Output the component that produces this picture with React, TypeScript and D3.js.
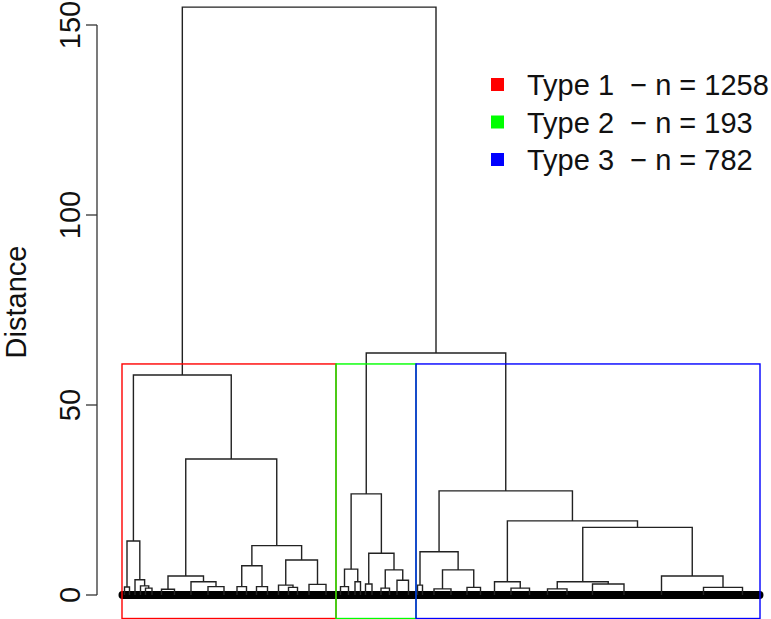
import * as d3 from 'd3';
import * as React from 'react';

const width = 771;
const height = 619;

// observations in each terminal group, in dendrogram leaf order
const groupSizes = [
  5, 5, 6, 5, 5, 8, 11, 15, 18, 16, 16, 10, 9, 11, 11, 11, 9, 9, 14, 20,
  9, 7, 6, 5, 5, 8, 10, 7, 8, 15,
  3, 7, 16, 18, 14, 13, 15, 18, 19, 17, 22, 29, 34, 41, 43, 35,
];

// hclust style merge table: negative = terminal group, positive = earlier merge (1-based)
const merges: [number, number][] = [
  [-1, -2], [-5, -6], [-4, 2], [-3, 3], [1, 4],
  [-7, -8], [-10, -11], [-9, 7], [6, 8],
  [-12, -13], [-14, -15], [10, 11],
  [-17, -18], [-16, 13], [-19, -20], [14, 15], [12, 16],
  [9, 17], [5, 18],
  [-21, -22], [-23, -24], [20, 21],
  [-25, -26], [-27, -28], [-29, -30], [24, 25], [23, 26], [22, 27],
  [-31, -32], [-33, -34], [-35, -36], [30, 31], [29, 32],
  [-38, -39], [-37, 34],
  [-40, -41], [-42, -43], [36, 37],
  [-45, -46], [-44, 39], [38, 40], [35, 41], [33, 42],
  [28, 43], [19, 44],
];

const mergeHeights = [
  2.1, 1.8, 2.4, 4.0, 14.2,
  1.5, 2.2, 3.5, 5.0,
  2.2, 2.2, 7.7,
  2.0, 2.6, 2.8, 9.2, 13.0,
  35.8, 57.9,
  2.2, 3.5, 6.8,
  2.9, 1.8, 3.9, 6.6, 11.0, 26.6,
  2.6, 1.6, 2.0, 6.6, 11.4,
  1.8, 3.5,
  1.6, 2.9, 3.5,
  2.0, 5.0, 17.8, 19.5, 27.4,
  63.7, 154.7,
];

const clusterNames = ['Type 1', 'Type 2', 'Type 3'];
const clusterCounts = [1258, 193, 782];
const clusterColors = ['#ff0000', '#00ff00', '#0000ff'];
// last terminal group of each cluster
const clusterGroupEnds = [20, 30, 46];
const yTicks = [0, 50, 100, 150];

const font = "'Liberation Sans', Arial, Helvetica, sans-serif";

export default function App() {
  const N = d3.sum(groupSizes);
  const ends = Array.from(d3.cumsum(groupSizes));
  const centers = groupSizes.map((s, i) => ends[i] - s / 2);

  const x = d3.scaleLinear().domain([0, N]).range([122, 760]);
  const y = d3.scaleLinear().domain([0, 150]).range([595, 25]);
  const maxH = d3.max(mergeHeights) as number;
  const yBottom = y(-0.04 * maxH);

  const nodes: { x: number; h: number }[] = [];
  const pos = (ref: number) =>
    ref < 0 ? { x: centers[-ref - 1], h: 0 } : nodes[ref - 1];

  const paths = merges.map(([a, b], i) => {
    const l = pos(a);
    const r = pos(b);
    const h = mergeHeights[i];
    nodes.push({ x: (l.x + r.x) / 2, h });
    return `M${x(l.x)},${y(l.h)}V${y(h)}H${x(r.x)}V${y(r.h)}`;
  });

  const sortedH = [...mergeHeights].sort((a, b) => b - a);
  const k = clusterNames.length;
  const cutH = (sortedH[k - 2] + sortedH[k - 1]) / 2;

  const leaves = d3.range(N);

  return (
    <svg
      width={width}
      height={height}
      style={{ position: 'absolute', left: 0, top: 0, background: '#fff' }}
      fontFamily={font}
    >
      {/* y axis */}
      <g stroke="#333" strokeWidth={1.3}>
        <line x1={97} x2={97} y1={y(0)} y2={y(150)} />
        {yTicks.map(t => (
          <line key={t} x1={86} x2={97} y1={y(t)} y2={y(t)} />
        ))}
      </g>
      {yTicks.map(t => (
        <text
          key={t}
          transform={`translate(80,${y(t)}) rotate(-90)`}
          textAnchor="middle"
          fontSize={29}
          fill="#111"
        >
          {t}
        </text>
      ))}
      <text
        transform={`translate(26,302) rotate(-90)`}
        textAnchor="middle"
        fontSize={29}
        fill="#111"
      >
        Distance
      </text>

      {/* leaves */}
      <g fill="#000">
        {leaves.map(i => (
          <circle key={i} cx={x(i + 0.5)} cy={y(0)} r={4} />
        ))}
      </g>

      {/* dendrogram */}
      <g fill="none" stroke="#222" strokeWidth={1.4}>
        {paths.map((d, i) => (
          <path key={i} d={d} />
        ))}
      </g>

      {/* cluster boxes */}
      <g fill="none" strokeWidth={1.4}>
        {clusterGroupEnds.map((e, i) => {
          const s = i === 0 ? 0 : ends[clusterGroupEnds[i - 1] - 1];
          const t = ends[e - 1];
          return (
            <rect
              key={i}
              x={x(s)}
              y={y(cutH)}
              width={x(t) - x(s)}
              height={yBottom - y(cutH)}
              stroke={clusterColors[i]}
            />
          );
        })}
      </g>

      {/* legend */}
      {clusterNames.map((name, i) => (
        <g key={name} transform={`translate(0,${84.5 + i * 37.5})`}>
          <rect x={491} y={-6.5} width={13} height={13} fill={clusterColors[i]} />
          <text
            x={527}
            y={10.5}
            fontSize={29}
            fill="#111"
            style={{ whiteSpace: 'pre' }}
          >
            {`${name}  \u2212 n = ${clusterCounts[i]}`}
          </text>
        </g>
      ))}
    </svg>
  );
}
